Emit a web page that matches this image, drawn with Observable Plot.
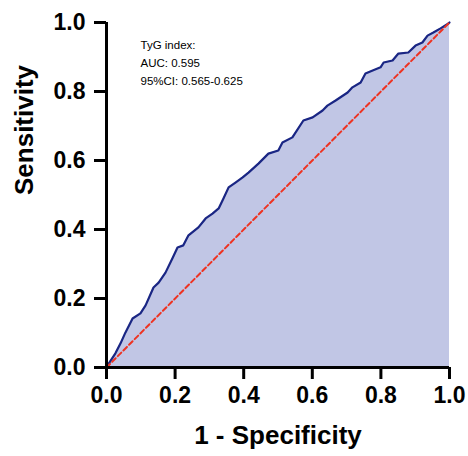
<!DOCTYPE html>
<html><head><meta charset="utf-8">
<script src="https://cdn.jsdelivr.net/npm/d3@7"></script>
<script src="https://cdn.jsdelivr.net/npm/@observablehq/plot@0.6"></script>
<style>body{margin:0;background:#fff}</style>
</head><body><div id="chart"></div>
<script>
const fpr = [0,0.003,0.026,0.041,0.055,0.076,0.099,0.114,0.137,0.152,0.172,0.192,0.207,0.224,0.239,0.268,0.289,0.309,0.327,0.341,0.356,0.376,0.397,0.414,0.443,0.472,0.501,0.513,0.542,0.574,0.601,0.630,0.644,0.668,0.703,0.717,0.741,0.755,0.776,0.799,0.808,0.834,0.851,0.880,0.901,0.921,0.936,0.953,0.974,0.997,1];
const tpr = [0,0.006,0.041,0.070,0.101,0.142,0.157,0.180,0.232,0.246,0.275,0.316,0.348,0.354,0.383,0.406,0.432,0.446,0.461,0.490,0.522,0.536,0.551,0.565,0.591,0.620,0.629,0.652,0.667,0.716,0.725,0.745,0.759,0.774,0.797,0.812,0.826,0.852,0.861,0.870,0.884,0.890,0.910,0.913,0.933,0.942,0.962,0.971,0.983,0.997,1];
const tickValues = [0,0.2,0.4,0.6,0.8,1.0];
const annotation = ["TyG index:", "AUC: 0.595", "95%CI: 0.565-0.625"];
const xTitle = "1 - Specificity";
const yTitle = "Sensitivity";
const diagX = [0,1];
const diagY = [0,1];

const roc = fpr.map((x,i)=>({x, y:tpr[i]}));
const diag = diagX.map((x,i)=>({x, y:diagY[i]}));

const plot = Plot.plot({
  width:468, height:456, marginLeft:106, marginRight:19, marginTop:22, marginBottom:89,
  style:{fontFamily:"'Liberation Sans', Arial, sans-serif", color:"#000", background:"#fff", overflow:"visible"},
  x:{domain:[0,1]}, y:{domain:[0,1]},
  marks:[
    Plot.areaY(roc,{x:"x",y:"y",fill:"#c1c6e5"}),
    Plot.line(roc,{x:"x",y:"y",stroke:"#1a2684",strokeWidth:2.2}),
    Plot.line(diag,{x:"x",y:"y",stroke:"#ee3322",strokeWidth:2,strokeDasharray:"5,3"}),
    Plot.ruleX([0],{strokeWidth:3}),
    Plot.ruleY([0],{strokeWidth:3}),
    Plot.axisX({ticks:tickValues, tickFormat:d3.format(".1f"), tickSize:12, tickPadding:7, strokeWidth:3, fontSize:23, fontWeight:"bold", label:null}),
    Plot.axisY({ticks:tickValues, tickFormat:d3.format(".1f"), tickSize:12, tickPadding:9, strokeWidth:3, fontSize:23, fontWeight:"bold", label:null}),
    Plot.text([xTitle],{frameAnchor:"bottom", dy:76, fontSize:26, fontWeight:"bold"}),
    Plot.text([yTitle],{frameAnchor:"left", dx:-82, rotate:-90, fontSize:26, fontWeight:"bold"}),
    Plot.text([annotation.join("\n")],{frameAnchor:"top-left", dx:34, dy:13, lineAnchor:"top", textAnchor:"start", lineHeight:1.6, fontSize:11.5})
  ]
});
document.getElementById("chart").append(plot);
</script>
</body></html>
